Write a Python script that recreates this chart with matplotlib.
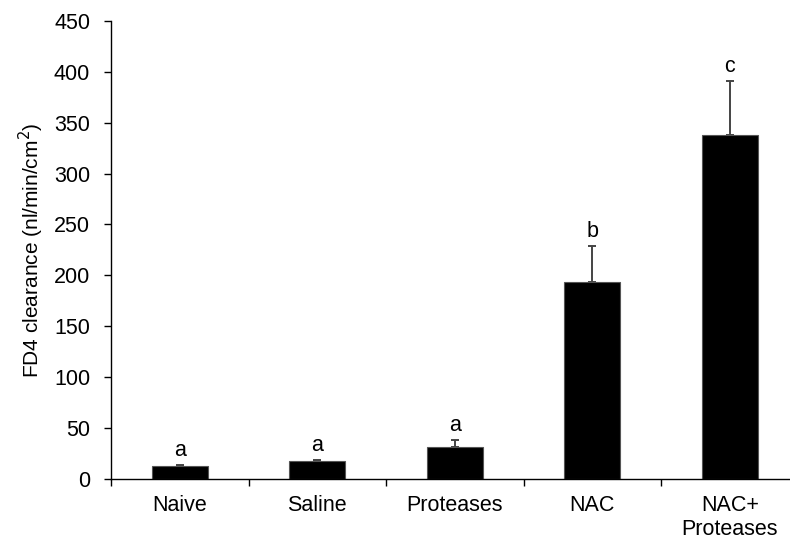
import matplotlib
matplotlib.use("Agg")
import matplotlib.pyplot as plt

plt.rcParams['font.family'] = ['Liberation Sans', 'DejaVu Sans']

groups = ["Naive", "Saline", "Proteases", "NAC", "NAC+\nProteases"]
clearance = [12.2, 17.4, 31.5, 193, 338]
sem = [1.3, 1.3, 6.2, 36, 53]
letters = ["a", "a", "a", "b", "c"]
y_ticks = [0, 50, 100, 150, 200, 250, 300, 350, 400, 450]

FS = 15.5

fig = plt.figure(figsize=(7.9, 5.53), dpi=100)
ax = fig.add_axes([111 / 790, 74.3 / 553, 687.5 / 790, 457.7 / 553])

x = list(range(len(groups)))
ax.bar(x, clearance, width=0.41, color="black", edgecolor="#555555", linewidth=0.8, zorder=2)
ax.errorbar(x, clearance, yerr=[[0] * len(sem), sem], fmt="none", ecolor="#444444",
            elinewidth=1.4, capsize=3.2, capthick=1.4, zorder=1)

for xi, v, e, lab in zip(x, clearance, sem, letters):
    ax.annotate(lab, (xi, v + e), xytext=(0, 3), textcoords="offset points",
                ha="center", va="bottom", fontsize=FS)

ax.set_xlim(-0.5, 4.5)
ax.set_ylim(0, 450)
ax.set_yticks(y_ticks)
ax.tick_params(axis="y", labelsize=FS, direction="out", length=5, width=1, pad=10)

# category boundaries carry the x tick marks; labels sit at the bar centres
ax.set_xticks([i - 0.5 for i in range(len(groups) + 1)])
ax.set_xticklabels([])
ax.tick_params(axis="x", direction="out", length=5, width=1)
for xi, g in zip(x, groups):
    ax.text(xi, -16, g, ha="center", va="top", fontsize=FS,
            transform=ax.transData, linespacing=1.2)

ax.spines["top"].set_visible(False)
ax.spines["right"].set_visible(False)
for s in ("left", "bottom"):
    ax.spines[s].set_linewidth(1.0)

ax.set_ylabel("FD4 clearance (nl/min/cm$^2$)", fontsize=15)
ax.yaxis.set_label_coords(-(111 - 46) / 687.5, 0.5)

fig.savefig("out.png", dpi=100)
